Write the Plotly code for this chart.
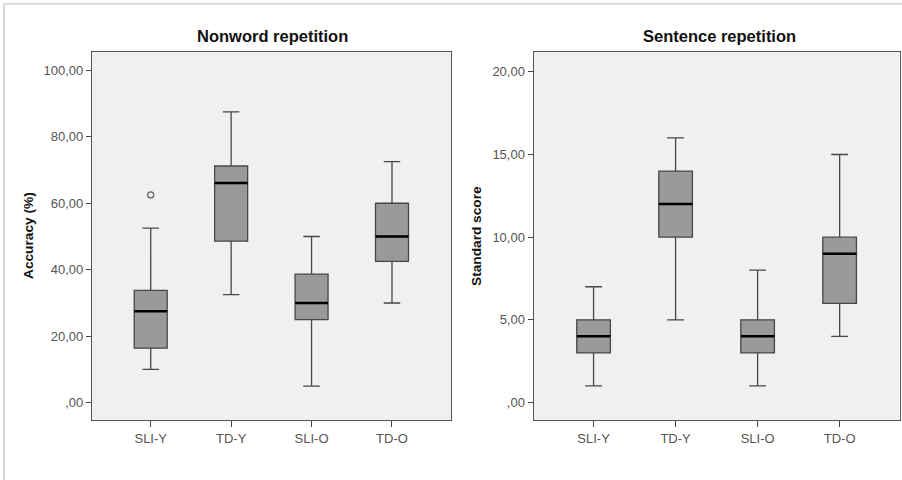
import plotly.graph_objects as go

# ---------------- data ----------------
groups = ["SLI-Y", "TD-Y", "SLI-O", "TD-O"]

# Nonword repetition (Accuracy %)
nw_lower = [10.0, 32.5, 5.0, 30.0]
nw_q1 = [16.4, 48.6, 25.0, 42.5]
nw_median = [27.5, 66.1, 30.0, 50.0]
nw_q3 = [33.8, 71.2, 38.7, 60.0]
nw_upper = [52.5, 87.5, 50.0, 72.5]
nw_outlier_group = ["SLI-Y"]
nw_outlier_value = [62.5]

# Sentence repetition (Standard score)
sr_lower = [1, 5, 1, 4]
sr_q1 = [3, 10, 3, 6]
sr_median = [4, 12, 4, 9]
sr_q3 = [5, 14, 5, 10]
sr_upper = [7, 16, 8, 15]

nw_ticks = [0, 20, 40, 60, 80, 100]
nw_ticklabels = [",00", "20,00", "40,00", "60,00", "80,00", "100,00"]
sr_ticks = [0, 5, 10, 15, 20]
sr_ticklabels = [",00", "5,00", "10,00", "15,00", "20,00"]

titles = ["Nonword repetition", "Sentence repetition"]
ytitles = ["Accuracy (%)", "Standard score"]

# ---------------- styling ----------------
W, H = 902, 480
BOX_W = 0.41
FILL = "#9a9a9a"
EDGE = "#474747"
FONT = "Liberation Sans, Arial, sans-serif"
pos = list(range(len(groups)))

fig = go.Figure()


def add_panel(xa, ya, lower, q1, med, q3, upper):
    fig.add_trace(go.Box(
        x=pos, q1=q1, median=med, q3=q3, lowerfence=lower, upperfence=upper,
        width=BOX_W, whiskerwidth=0.5, fillcolor=FILL,
        line=dict(color=EDGE, width=1.3), boxpoints=False,
        xaxis=xa, yaxis=ya, showlegend=False, hoverinfo="skip"))
    mx, my = [], []
    for p, m in zip(pos, med):
        mx += [p - BOX_W / 2, p + BOX_W / 2, None]
        my += [m, m, None]
    fig.add_trace(go.Scatter(
        x=mx, y=my, mode="lines", line=dict(color="#000000", width=2.5),
        xaxis=xa, yaxis=ya, showlegend=False, hoverinfo="skip"))


add_panel("x", "y", nw_lower, nw_q1, nw_median, nw_q3, nw_upper)
add_panel("x2", "y2", sr_lower, sr_q1, sr_median, sr_q3, sr_upper)

fig.add_trace(go.Scatter(
    x=[groups.index(g) for g in nw_outlier_group], y=nw_outlier_value,
    mode="markers",
    marker=dict(symbol="circle-open", size=6, color="#666666",
                line=dict(width=1.3, color="#666666")),
    xaxis="x", yaxis="y", showlegend=False, hoverinfo="skip"))

ydom = [(H - 420) / H, (H - 52) / H]
left_dom = [92 / W, 450.7 / W]
right_dom = [533.7 / W, 899.5 / W]

common_x = dict(
    tickmode="array", tickvals=pos, ticktext=groups, ticks="outside",
    ticklen=6, tickwidth=1.3, tickcolor="#444444", showline=True,
    linecolor="#555555", linewidth=1.3, mirror=True, showgrid=False,
    zeroline=False, tickfont=dict(family=FONT, size=13, color="#555555"),
    range=[-0.73, 3.73], fixedrange=True)
common_y = dict(
    tickmode="array", ticks="outside", ticklen=5, tickwidth=1.3,
    tickcolor="#444444", showline=True, linecolor="#555555", linewidth=1.3,
    mirror=True, showgrid=False, zeroline=False,
    tickfont=dict(family=FONT, size=13, color="#555555"), fixedrange=True)

fig.update_layout(
    width=W, height=H, margin=dict(l=0, r=0, t=0, b=0),
    paper_bgcolor="white", plot_bgcolor="#f0f0f0",
    xaxis=dict(domain=left_dom, anchor="y", **common_x),
    xaxis2=dict(domain=right_dom, anchor="y2", **common_x),
    yaxis=dict(domain=ydom, anchor="x", tickvals=nw_ticks,
               ticktext=nw_ticklabels, range=[-5.2, 105.5], **common_y),
    yaxis2=dict(domain=ydom, anchor="x2", tickvals=sr_ticks,
                ticktext=sr_ticklabels, range=[-1.06, 21.2], **common_y),
)

# panel titles
for t, cx in zip(titles, [272, 719]):
    fig.add_annotation(text="<b>%s</b>" % t, x=cx / W, y=1 - 36 / H,
                       xref="paper", yref="paper", showarrow=False,
                       xanchor="center", yanchor="middle",
                       font=dict(family=FONT, size=16.5, color="#111111"))
# axis titles
for t, cx in zip(ytitles, [28, 476]):
    fig.add_annotation(text="<b>%s</b>" % t, x=cx / W, y=1 - 236 / H,
                       xref="paper", yref="paper", showarrow=False,
                       xanchor="center", yanchor="middle", textangle=-90,
                       font=dict(family=FONT, size=13.7, color="#111111"))

# outer light frame of the figure
fig.add_shape(type="line", xref="paper", yref="paper",
              x0=4 / W, x1=1.01, y0=1 - 3.7 / H, y1=1 - 3.7 / H,
              line=dict(color="#d9d9d9", width=2))
fig.add_shape(type="line", xref="paper", yref="paper",
              x0=4 / W, x1=4 / W, y0=-0.01, y1=1 - 3.7 / H,
              line=dict(color="#d9d9d9", width=2))

fig.write_html("out.html")
